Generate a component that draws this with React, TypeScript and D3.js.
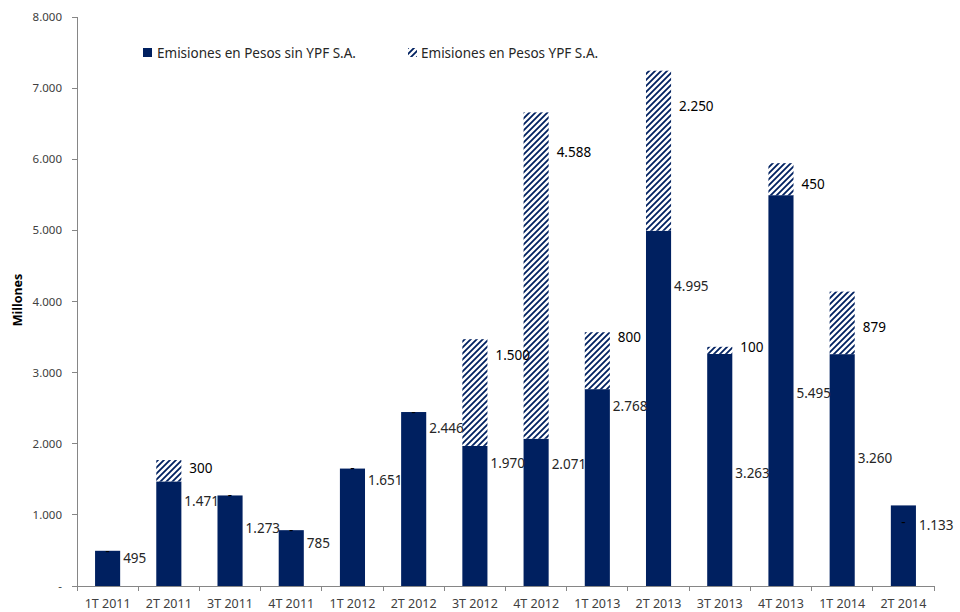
import { useEffect, useRef } from "react";
import * as d3 from "d3";

const quarters = [
  "1T 2011", "2T 2011", "3T 2011", "4T 2011",
  "1T 2012", "2T 2012", "3T 2012", "4T 2012",
  "1T 2013", "2T 2013", "3T 2013", "4T 2013",
  "1T 2014", "2T 2014",
];
const sinYpf = [495, 1471, 1273, 785, 1651, 2446, 1970, 2071, 2768, 4995, 3263, 5495, 3260, 1133];
const ypf = [0, 300, 0, 0, 0, 0, 1500, 4588, 800, 2250, 100, 450, 879, 0];
// where each label sits on the value axis
const sinYpfLabelAt = [395, 1195, 815, 605, 1490, 2220, 1730, 1715, 2520, 4220, 1590, 2715, 1800, 860];
const ypfLabelAt = [495, 1660, 1273, 785, 1651, 2446, 3250, 6100, 3500, 6750, 3360, 5650, 3640, 900];
const yTicks = [0, 1000, 2000, 3000, 4000, 5000, 6000, 7000, 8000];
const seriesNames = ["Emisiones en Pesos sin YPF S.A.", "Emisiones en Pesos YPF S.A."];

const NAVY = "#002060";
const FONT = "Noto Sans, Open Sans, sans-serif";
const W = 960;
const H = 612;

const es = d3.formatLocale({ decimal: ",", thousands: ".", grouping: [3], currency: ["$", ""] });
const fmt = (v: number) => (v === 0 ? "-" : es.format(",")(v));

export default function App() {
  const ref = useRef<SVGSVGElement>(null);

  useEffect(() => {
    const svg = d3.select(ref.current);
    svg.selectAll("*").remove();

    const x = d3.scaleBand<string>().domain(quarters).range([77, 934]).paddingInner(0.59).paddingOuter(0.295);
    const y = d3.scaleLinear().domain([0, 8000]).range([586, 17]);

    // hatch pattern
    const defs = svg.append("defs");
    const pat = defs
      .append("pattern")
      .attr("id", "hatch")
      .attr("patternUnits", "userSpaceOnUse")
      .attr("width", 6)
      .attr("height", 6);
    pat.append("rect").attr("width", 6).attr("height", 6).attr("fill", "#fff");
    pat
      .append("path")
      .attr("d", "M-1,1 L1,-1 M0,6 L6,0 M5,7 L7,5")
      .attr("stroke", NAVY)
      .attr("stroke-width", 1.8);

    // bars
    const g = svg.append("g");
    quarters.forEach((q, i) => {
      const bx = x(q)!;
      g.append("rect")
        .attr("x", bx)
        .attr("width", x.bandwidth())
        .attr("y", y(sinYpf[i]))
        .attr("height", y(0) - y(sinYpf[i]))
        .attr("fill", NAVY);
      if (ypf[i] > 0) {
        g.append("rect")
          .attr("x", bx)
          .attr("width", x.bandwidth())
          .attr("y", y(sinYpf[i] + ypf[i]))
          .attr("height", y(sinYpf[i]) - y(sinYpf[i] + ypf[i]))
          .attr("fill", "url(#hatch)");
      }
    });

    // axes
    const axisColor = "#868686";
    const ax = svg.append("g").attr("stroke", axisColor).attr("stroke-width", 1).attr("shape-rendering", "crispEdges");
    ax.append("line").attr("x1", 77).attr("x2", 77).attr("y1", y(8000)).attr("y2", y(0));
    ax.append("line").attr("x1", 77).attr("x2", 934).attr("y1", y(0)).attr("y2", y(0));
    yTicks.forEach((t) => {
      ax.append("line").attr("x1", 72).attr("x2", 77).attr("y1", y(t)).attr("y2", y(t));
    });
    const bounds = [...quarters.map((q) => x(q)! - (x.step() - x.bandwidth()) / 2), 934];
    bounds.forEach((b) => {
      ax.append("line").attr("x1", b).attr("x2", b).attr("y1", y(0)).attr("y2", y(0) + 5);
    });

    const txt = svg.append("g").attr("font-family", FONT).attr("fill", "#262626");
    yTicks.forEach((t) => {
      txt.append("text")
        .attr("x", 62)
        .attr("y", y(t))
        .attr("dy", "0.35em")
        .attr("text-anchor", "end")
        .attr("font-size", 11.5)
        .attr("fill", "#404040")
        .text(fmt(t));
    });
    quarters.forEach((q) => {
      txt.append("text")
        .attr("x", x(q)! + x.bandwidth() / 2)
        .attr("y", 604)
        .attr("dy", "0.35em")
        .attr("text-anchor", "middle")
        .attr("font-size", 12.5)
        .attr("fill", "#404040")
        .text(q);
    });

    txt.append("text")
      .attr("transform", `translate(18,${300}) rotate(-90)`)
      .attr("text-anchor", "middle")
      .attr("dy", "0.35em")
      .attr("font-size", 12.5)
      .attr("font-weight", "bold")
      .attr("fill", "#000")
      .text("Millones");

    // data labels
    quarters.forEach((q, i) => {
      const right = x(q)! + x.bandwidth();
      txt.append("text")
        .attr("x", right + 3)
        .attr("y", y(sinYpfLabelAt[i]))
        .attr("dy", "0.35em")
        .attr("font-size", 13.5)
        .text(fmt(sinYpf[i]));
      const zero = ypf[i] === 0;
      txt.append("text")
        .attr("x", zero ? x(q)! + x.bandwidth() / 2 : right + 8)
        .attr("y", y(ypfLabelAt[i]))
        .attr("dy", "0.35em")
        .attr("text-anchor", zero ? "middle" : "start")
        .attr("font-size", 13.5)
        .attr("fill", "#000")
        .text(fmt(ypf[i]));
    });

    // legend
    const lg = svg.append("g").attr("font-family", FONT).attr("font-size", 13.5).attr("fill", "#262626");
    lg.append("rect").attr("x", 143).attr("y", 48).attr("width", 9).attr("height", 9).attr("fill", NAVY);
    lg.append("text").attr("x", 157).attr("y", 53).attr("dy", "0.35em").text(seriesNames[0]);
    lg.append("rect").attr("x", 408).attr("y", 48).attr("width", 9).attr("height", 9).attr("fill", "url(#hatch)");
    lg.append("text").attr("x", 421).attr("y", 53).attr("dy", "0.35em").text(seriesNames[1]);
  }, []);

  return (
    <svg
      ref={ref}
      width={W}
      height={H}
      style={{ position: "absolute", left: 0, top: 0, background: "#fff" }}
    />
  );
}
